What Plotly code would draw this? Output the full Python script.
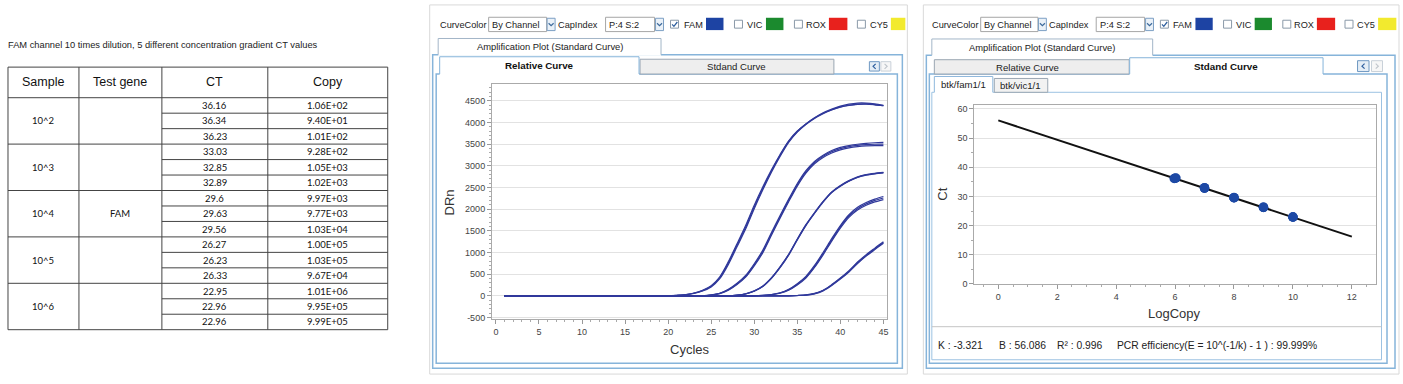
import plotly.graph_objects as go

W, H = 1403, 384

# ---------------- data ----------------
table_title = "FAM channel 10 times dilution, 5 different concentration gradient CT values"
table_headers = ["Sample", "Test gene", "CT", "Copy"]
samples = ["10^2", "10^3", "10^4", "10^5", "10^6"]
test_gene = "FAM"
ct_values = [36.16, 36.34, 36.23, 33.03, 32.85, 32.89, 29.6, 29.63, 29.56,
             26.27, 26.23, 26.33, 22.95, 22.96, 22.96]
copy_labels = ["1.06E+02", "9.40E+01", "1.01E+02", "9.28E+02", "1.05E+03", "1.02E+03",
               "9.97E+03", "9.77E+03", "1.03E+04", "1.00E+05", "1.03E+05", "9.67E+04",
               "1.01E+06", "9.95E+05", "9.99E+05"]

cycles = [1, 2, 3, 4, 5, 6, 7, 8, 9, 10, 11, 12, 13, 14, 15, 16, 17, 18, 19, 20,
          21, 22, 23, 24, 25, 26, 27, 28, 29, 30, 31, 32, 33, 34, 35, 36, 37, 38, 39, 40,
          41, 42, 43, 44, 45]

drn_1e6_a = [0, 0, 0, 0, 0, 0, 0, 0, 0, 0,
             0, 0, 0, 0, 0, 0, 0, 0, 0, 0,
             10, 25, 60, 120, 221, 420, 760, 1170, 1580, 2050,
             2480, 2880, 3240, 3560, 3790, 3960, 4100, 4210, 4290, 4356,
             4395, 4420, 4425, 4410, 4386]
drn_1e6_b = [0, 0, 0, 0, 0, 0, 0, 0, 0, 0,
             0, 0, 0, 0, 0, 0, 0, 0, 0, 0,
             8, 22, 55, 110, 205, 395, 725, 1130, 1540, 2010,
             2445, 2850, 3215, 3540, 3775, 3950, 4090, 4200, 4285, 4350,
             4392, 4415, 4420, 4405, 4383]
drn_1e6_c = [0, 0, 0, 0, 0, 0, 0, 0, 0, 0,
             0, 0, 0, 0, 0, 0, 0, 0, 0, 0,
             12, 28, 66, 130, 235, 440, 790, 1200, 1620, 2090,
             2515, 2905, 3260, 3575, 3800, 3965, 4105, 4220, 4305, 4375,
             4420, 4445, 4445, 4425, 4392]
drn_1e5_a = [0, 0, 0, 0, 0, 0, 0, 0, 0, 0,
             0, 0, 0, 0, 0, 0, 0, 0, 0, 0,
             0, 0, 0, 0, 20, 60, 150, 290, 470, 740,
             1056, 1460, 1853, 2230, 2589, 2886, 3100, 3243, 3350, 3423,
             3465, 3495, 3515, 3530, 3537]
drn_1e5_b = [0, 0, 0, 0, 0, 0, 0, 0, 0, 0,
             0, 0, 0, 0, 0, 0, 0, 0, 0, 0,
             0, 0, 0, 0, 18, 55, 140, 275, 450, 715,
             1025, 1425, 1820, 2200, 2560, 2860, 3075, 3220, 3325, 3395,
             3440, 3468, 3485, 3495, 3500]
drn_1e5_c = [0, 0, 0, 0, 0, 0, 0, 0, 0, 0,
             0, 0, 0, 0, 0, 0, 0, 0, 0, 0,
             0, 0, 0, 0, 15, 50, 130, 260, 430, 690,
             995, 1395, 1790, 2170, 2530, 2830, 3045, 3190, 3295, 3365,
             3410, 3440, 3458, 3465, 3465]
drn_1e4_a = [0, 0, 0, 0, 0, 0, 0, 0, 0, 0,
             0, 0, 0, 0, 0, 0, 0, 0, 0, 0,
             0, 0, 0, 0, 0, 0, 0, 15, 45, 110,
             221, 410, 660, 950, 1300, 1630, 1910, 2170, 2390, 2535,
             2650, 2735, 2790, 2820, 2840]
drn_1e4_b = [0, 0, 0, 0, 0, 0, 0, 0, 0, 0,
             0, 0, 0, 0, 0, 0, 0, 0, 0, 0,
             0, 0, 0, 0, 0, 0, 0, 14, 43, 106,
             215, 402, 650, 940, 1290, 1620, 1900, 2160, 2380, 2527,
             2643, 2728, 2783, 2814, 2834]
drn_1e4_c = [0, 0, 0, 0, 0, 0, 0, 0, 0, 0,
             0, 0, 0, 0, 0, 0, 0, 0, 0, 0,
             0, 0, 0, 0, 0, 0, 0, 16, 47, 114,
             227, 418, 668, 960, 1310, 1640, 1920, 2180, 2398, 2543,
             2657, 2742, 2797, 2826, 2846]
drn_1e3_a = [0, 0, 0, 0, 0, 0, 0, 0, 0, 0,
             0, 0, 0, 0, 0, 0, 0, 0, 0, 0,
             0, 0, 0, 0, 0, 0, 0, 0, 0, 0,
             10, 30, 70, 150, 280, 450, 700, 1000, 1320, 1620,
             1870, 2040, 2150, 2230, 2290]
drn_1e3_b = [0, 0, 0, 0, 0, 0, 0, 0, 0, 0,
             0, 0, 0, 0, 0, 0, 0, 0, 0, 0,
             0, 0, 0, 0, 0, 0, 0, 0, 0, 0,
             9, 27, 65, 140, 265, 430, 675, 970, 1290, 1590,
             1840, 2010, 2120, 2200, 2255]
drn_1e3_c = [0, 0, 0, 0, 0, 0, 0, 0, 0, 0,
             0, 0, 0, 0, 0, 0, 0, 0, 0, 0,
             0, 0, 0, 0, 0, 0, 0, 0, 0, 0,
             8, 25, 60, 132, 252, 412, 655, 945, 1262, 1560,
             1810, 1980, 2090, 2165, 2220]
drn_1e2_a = [0, 0, 0, 0, 0, 0, 0, 0, 0, 0,
             0, 0, 0, 0, 0, 0, 0, 0, 0, 0,
             0, 0, 0, 0, 0, 0, 0, 0, 0, 0,
             0, 0, 0, 0, 8, 20, 55, 130, 260, 411,
             580, 780, 950, 1100, 1245]
drn_1e2_b = [0, 0, 0, 0, 0, 0, 0, 0, 0, 0,
             0, 0, 0, 0, 0, 0, 0, 0, 0, 0,
             0, 0, 0, 0, 0, 0, 0, 0, 0, 0,
             0, 0, 0, 0, 7, 18, 50, 122, 248, 398,
             565, 762, 932, 1082, 1228]
drn_1e2_c = [0, 0, 0, 0, 0, 0, 0, 0, 0, 0,
             0, 0, 0, 0, 0, 0, 0, 0, 0, 0,
             0, 0, 0, 0, 0, 0, 0, 0, 0, 0,
             0, 0, 0, 0, 6, 16, 46, 115, 238, 385,
             550, 745, 915, 1065, 1210]

amp_y_ticks = [-500, 0, 500, 1000, 1500, 2000, 2500, 3000, 3500, 4000, 4500]
amp_x_ticks = [0, 5, 10, 15, 20, 25, 30, 35, 40, 45]

std_log_copy = [5.97, 6.03, 6.0, 7, 7, 7, 8, 8, 8, 9, 9, 9, 10, 10, 10]
std_ct = [36.16, 36.34, 36.23, 33.03, 32.85, 32.89, 29.6, 29.63, 29.56,
          26.27, 26.23, 26.33, 22.95, 22.96, 22.96]
fit_k = -3.321
fit_b = 56.086
fit_r2 = 0.996
fit_eff = "99.999%"
fit_x = [0, 12]

# ---------------- helpers ----------------
def X(px):
    return px / W


def Y(py):
    return 1 - py / H


shapes = []
annotations = []


def rect(x0, y0, x1, y1, color="#999", fill=None, width=1):
    shapes.append(dict(type="rect", xref="paper", yref="paper", x0=X(x0), x1=X(x1),
                       y0=Y(y1), y1=Y(y0), layer="below",
                       line=dict(color=color, width=width),
                       fillcolor=fill if fill else "rgba(0,0,0,0)"))


def fillrect(x0, y0, x1, y1, fill):
    shapes.append(dict(type="rect", xref="paper", yref="paper", x0=X(x0), x1=X(x1),
                       y0=Y(y1), y1=Y(y0), layer="below", line=dict(width=0),
                       fillcolor=fill))


def path(points, color, width=1, fill=None, closed=False):
    d = "M " + " L ".join(f"{X(a):.5f},{Y(b):.5f}" for a, b in points)
    if closed:
        d += " Z"
    shapes.append(dict(type="path", path=d, xref="paper", yref="paper", layer="below",
                       line=dict(color=color, width=width),
                       fillcolor=fill if fill else "rgba(0,0,0,0)"))


def T(x, y, s, size=9.5, color="#222", bold=False, xanchor="left",
      family="Liberation Sans", angle=0):
    annotations.append(dict(x=X(x), y=Y(y), xref="paper", yref="paper",
                            text=f"<b>{s}</b>" if bold else s, showarrow=False,
                            xanchor=xanchor, yanchor="middle", borderpad=0,
                            font=dict(size=size, color=color, family=family),
                            textangle=angle))


BLUE_BORDER = "#86b4da"
GRAY_BORDER = "#9aa6b2"
UI_SIZE = 9.2

# ---------------- table ----------------
T(7, 46, table_title, size=9.3, color="#222")
col_x = [8, 79, 162, 268, 388]
top, head_bot, row_h = 68, 99, 15.67
n_rows = len(ct_values)
bottom = head_bot + row_h * n_rows
for cx in col_x:
    path([(cx, top), (cx, bottom)], "#444", 1)
path([(col_x[0], top), (col_x[-1], top)], "#444", 1)
path([(col_x[0], head_bot), (col_x[-1], head_bot)], "#444", 1)
for i in range(1, n_rows + 1):
    yy = head_bot + row_h * i
    x_start = col_x[2]
    if i % 3 == 0:
        x_start = col_x[0]
    if i == n_rows:
        x_start = col_x[0]
    path([(x_start, yy), (col_x[-1], yy)], "#444", 1)
for j, hname in enumerate(table_headers):
    T((col_x[j] + col_x[j + 1]) / 2, (top + head_bot) / 2, hname, size=12.5,
      color="#111", xanchor="center")
for g, s in enumerate(samples):
    T((col_x[0] + col_x[1]) / 2, head_bot + row_h * (3 * g + 1.5), s, size=9.5,
      color="#111", xanchor="center", family="Lato")
T((col_x[1] + col_x[2]) / 2, (head_bot + bottom) / 2, test_gene, size=9.5,
  color="#111", xanchor="center", family="Lato")
for i in range(n_rows):
    yy = head_bot + row_h * (i + 0.5)
    T((col_x[2] + col_x[3]) / 2, yy, f"{ct_values[i]:g}", size=9.5, color="#111",
      xanchor="center", family="Lato")
    T((col_x[3] + col_x[4]) / 2, yy, copy_labels[i], size=9.5, color="#111",
      xanchor="center", family="Lato")


# ---------------- screenshot chrome ----------------
def arrow_btn(x0, y0, x1, y1):
    rect(x0, y0, x1, y1, "#7c9fc4", "#eaf1f8", 1)
    cx, cy = (x0 + x1) / 2, (y0 + y1) / 2
    path([(cx - 2.5, cy - 1.2), (cx, cy + 1.3), (cx + 2.5, cy - 1.2)], "#3c6a9c", 1.2)


def checkbox(x0, y0, checked=False):
    rect(x0, y0, x0 + 8, y0 + 8, "#8a99a8", "#ffffff", 1)
    if checked:
        path([(x0 + 1.6, y0 + 4.2), (x0 + 3.4, y0 + 6.2), (x0 + 6.8, y0 + 1.8)],
             "#2e5f9e", 1.3)


def toolbar(f, clip):
    T(f(439), 25, "CurveColor", size=UI_SIZE, color="#222")
    rect(f(489), 17.5, f(547), 32, "#a6a6a6", "#ffffff")
    T(f(491.5), 25, "By Channel", size=UI_SIZE, color="#222")
    arrow_btn(f(547.5), 18.5, f(555.5), 31)
    T(f(557), 25, "CapIndex", size=UI_SIZE, color="#222")
    rect(f(606), 17.5, f(655), 32, "#a6a6a6", "#ffffff")
    T(f(608.5), 25, "P:4 S:2", size=UI_SIZE, color="#222")
    arrow_btn(f(656), 18.5, f(664), 31)
    checkbox(f(671), 20.5, True)
    T(f(683), 25, "FAM", size=UI_SIZE, color="#222")
    fillrect(f(706.5), 18, f(724), 30.5, "#1d43a3")
    checkbox(f(735), 20.5)
    T(f(746.5), 25, "VIC", size=UI_SIZE, color="#222")
    fillrect(f(766.5), 18, f(784), 30.5, "#1b8a2e")
    checkbox(f(795), 20.5)
    T(f(805.5), 25, "ROX", size=UI_SIZE, color="#222")
    fillrect(f(829.5), 18, f(848), 30.5, "#e8211d")
    checkbox(f(858), 20.5)
    T(f(869.5), 25, "CY5", size=UI_SIZE, color="#222")
    fillrect(f(891.5), 18, min(f(910), clip), 30.5, "#f2ea2e")


def nav_buttons(x0, y0, x1, y1, x2, x3):
    rect(x0, y0, x1, y1, "#6f98c2", "#e4edf6")
    cy = (y0 + y1) / 2
    cx = (x0 + x1) / 2
    path([(cx + 1.3, cy - 2.6), (cx - 1.3, cy), (cx + 1.3, cy + 2.6)], "#2e5f9e", 1.2)
    rect(x2, y0, x3, y1, "#c9d1d9", "#f7f7f7")
    cx = (x2 + x3) / 2
    path([(cx - 1.3, cy - 2.6), (cx + 1.3, cy), (cx - 1.3, cy + 2.6)], "#c0c6cc", 1.2)


def open_tab(x0, y0, x1, y1, color, fill, cover_to):
    fillrect(x0, y0, x1, cover_to, fill)
    path([(x0, y1), (x0, y0), (x1, y0), (x1, y1)], color, 1)


# left screenshot
rect(430, 5, 908, 379, "#d9d9d9")
toolbar(lambda x: x, 906)
rect(433, 55.5, 903, 373, BLUE_BORDER, None, 1.5)
open_tab(438.5, 39, 661.5, 55.5, "#a3b6c8", "#ffffff", 56.5)
T(550, 47.5, "Amplification Plot (Standard Curve)", size=9.4, color="#222", xanchor="center")
rect(436.5, 75, 898, 368, BLUE_BORDER, None, 1.5)
rect(640.5, 60, 834.5, 75, GRAY_BORDER, "#eeeeee")
T(737.5, 67.5, "Stdand Curve", size=9.6, color="#222", xanchor="center")
open_tab(440, 57.5, 639.5, 75, BLUE_BORDER, "#ffffff", 76.5)
T(540, 66.5, "Relative Curve", size=9.8, color="#111", bold=True, xanchor="center")
nav_buttons(870, 62.5, 880, 72, 881.5, 891.5)

# right screenshot
rect(924, 5, 1400, 379, "#d9d9d9")
toolbar(lambda x: 932 + (x - 439) * 0.988, 1398)
rect(927, 56, 1396, 373, BLUE_BORDER, None, 1.5)
open_tab(932.5, 39.5, 1153.5, 56, "#a3b6c8", "#ffffff", 57)
T(1043, 48, "Amplification Plot (Standard Curve)", size=9.4, color="#222", xanchor="center")
rect(930, 75, 1388, 368, BLUE_BORDER, None, 1.5)
rect(935, 60.5, 1130, 75, GRAY_BORDER, "#eeeeee")
T(1028, 68, "Relative Curve", size=9.6, color="#222", xanchor="center")
open_tab(1130.5, 58.5, 1324, 75, BLUE_BORDER, "#ffffff", 76.5)
T(1227, 67.3, "Stdand Curve", size=9.8, color="#111", bold=True, xanchor="center")
nav_buttons(1358.5, 61.5, 1370, 72.5, 1372.5, 1383.5)
rect(932.5, 93.5, 1382.5, 364.5, "#9cc2e2", None, 1)
rect(995, 79.5, 1048.5, 93.5, GRAY_BORDER, "#f2f2f2")
T(1021.7, 86.6, "btk/vic1/1", size=9.6, color="#222", xanchor="center")
open_tab(935, 77.5, 993.5, 93.5, "#8fb8dc", "#ffffff", 94.5)
T(964.3, 86, "btk/fam1/1", size=9.6, color="#222", xanchor="center")
path([(932.5, 331), (1382.5, 331)], "#c4c4c4", 1)

# axis titles
T(449.5, 205, "DRn", size=13, color="#333", xanchor="center", angle=-90)
T(690, 354, "Cycles", size=13, color="#333", xanchor="center")
T(943, 197, "Ct", size=13, color="#333", xanchor="center", angle=-90)
T(1175, 318, "LogCopy", size=13, color="#333", xanchor="center")

# stats line
T(938, 350, f"K : {fit_k}", size=10.3, color="#222")
T(999, 350, f"B : {fit_b}", size=10.3, color="#222")
T(1057, 350, f"R² : {fit_r2}", size=10.3, color="#222")
T(1117, 350, f"PCR efficiency(E = 10^(-1/k) - 1 ) : {fit_eff}", size=10.3, color="#222")

# ---------------- traces ----------------
fig = go.Figure()
curves = [drn_1e6_a, drn_1e6_b, drn_1e6_c, drn_1e5_a, drn_1e5_b, drn_1e5_c,
          drn_1e4_a, drn_1e4_b, drn_1e4_c, drn_1e3_a, drn_1e3_b, drn_1e3_c,
          drn_1e2_a, drn_1e2_b, drn_1e2_c]
for c in curves:
    fig.add_trace(go.Scatter(x=cycles, y=c, mode="lines", xaxis="x", yaxis="y",
                             line=dict(color="#30399b", width=1.2, shape="spline",
                                       smoothing=0.8),
                             showlegend=False, hoverinfo="skip"))

fit_ct = [fit_b + fit_k * v for v in fit_x]
fig.add_trace(go.Scatter(x=fit_x, y=fit_ct, mode="lines", xaxis="x2", yaxis="y2",
                         line=dict(color="#111111", width=2), showlegend=False))
fig.add_trace(go.Scatter(x=std_log_copy, y=std_ct, mode="markers", xaxis="x2", yaxis="y2",
                         marker=dict(color="#1d49a5", size=9.5), showlegend=False))

tick_font = dict(size=9, color="#444", family="Liberation Sans")
fig.update_layout(
    width=W, height=H, margin=dict(l=0, r=0, t=0, b=0),
    paper_bgcolor="white", plot_bgcolor="white", showlegend=False,
    shapes=shapes, annotations=annotations,
    xaxis=dict(domain=[X(492.3), X(888)], range=[-0.46, 45.46], anchor="y",
               tickmode="array", tickvals=amp_x_ticks, ticktext=[str(v) for v in amp_x_ticks],
               ticks="outside", ticklen=4, tickcolor="#999", showline=True,
               linecolor="#aaa", mirror=True, showgrid=False, zeroline=False,
               tickfont=tick_font,
               minor=dict(tickmode="linear", tick0=0, dtick=1, ticks="outside",
                          ticklen=2, tickcolor="#aaa", showgrid=False)),
    yaxis=dict(domain=[Y(323.5), Y(85)], range=[-541, 4887], anchor="x",
               tickmode="array", tickvals=amp_y_ticks, ticktext=[str(v) for v in amp_y_ticks],
               ticks="outside", ticklen=4, tickcolor="#999", showline=True,
               linecolor="#aaa", mirror=True, showgrid=True, gridcolor="#e2e2e2",
               zeroline=False, tickfont=tick_font,
               minor=dict(tickmode="linear", tick0=0, dtick=100, ticks="outside",
                          ticklen=2, tickcolor="#aaa", showgrid=False)),
    xaxis2=dict(domain=[X(975), X(1376.7)], range=[-0.814, 12.81], anchor="y2",
                dtick=2, tick0=0, ticks="outside", ticklen=4, tickcolor="#999",
                showline=True, linecolor="#aaa", mirror=True, showgrid=False,
                zeroline=False, tickfont=tick_font,
                minor=dict(dtick=0.5, ticks="outside", ticklen=2, tickcolor="#aaa",
                           showgrid=False)),
    yaxis2=dict(domain=[Y(287.7), Y(106)], range=[0, 61.5], anchor="x2",
                dtick=10, tick0=0, ticks="outside", ticklen=4, tickcolor="#999",
                showline=True, linecolor="#aaa", mirror=True, showgrid=True,
                gridcolor="#e2e2e2", zeroline=False, tickfont=tick_font,
                minor=dict(dtick=5, ticks="outside", ticklen=2, tickcolor="#aaa",
                           showgrid=False)),
)

fig.write_html("out.html",
               config={"displayModeBar": False},
               post_script="document.body.style.margin='0px';"
                           "document.body.style.overflow='hidden';")
